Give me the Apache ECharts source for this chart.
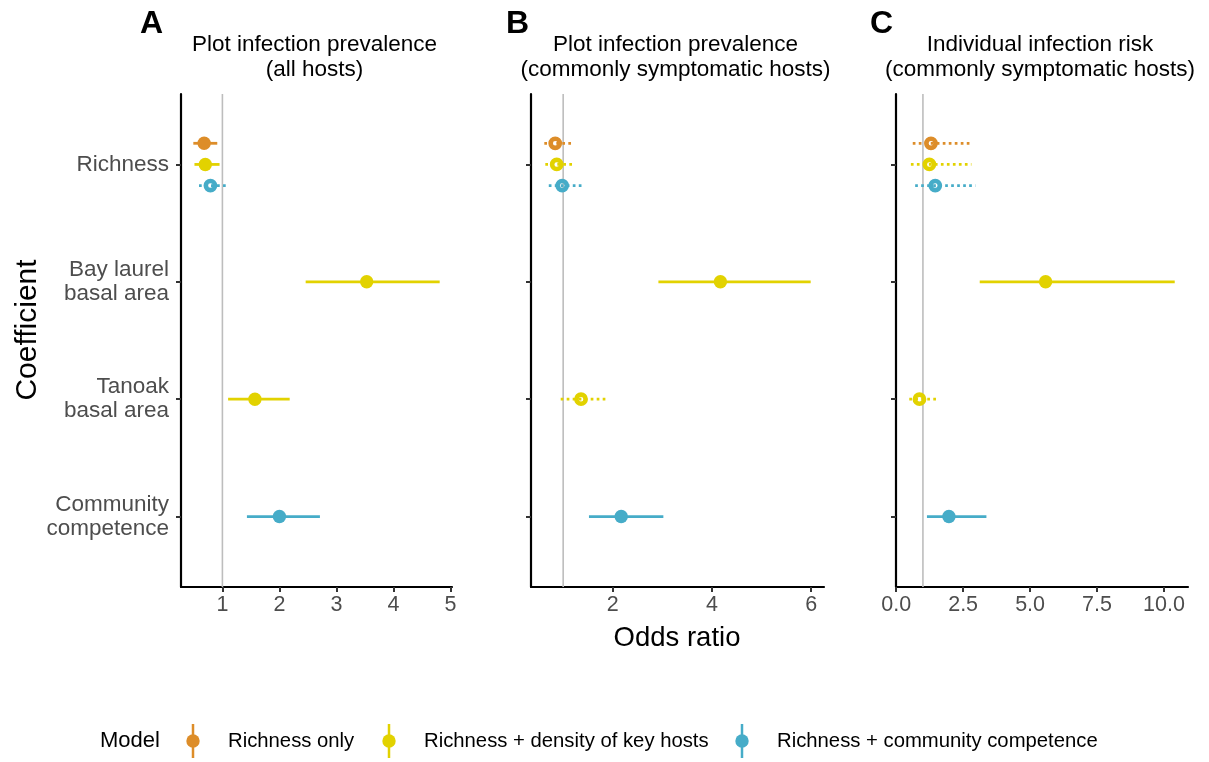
<!DOCTYPE html>
<html>
<head>
<meta charset="utf-8">
<title>Odds ratios by model</title>
<script src="https://cdn.jsdelivr.net/npm/echarts@6/dist/echarts.min.js"></script>
<style>
  html, body { margin: 0; padding: 0; background: #ffffff; }
  #chart { width: 1209px; height: 762px; }
</style>
</head>
<body>
<div id="chart"></div>
<script>
// Coefficients (top to bottom) and models
const coefficients = ['Richness', 'Bay laurel\nbasal area', 'Tanoak\nbasal area', 'Community\ncompetence'];
const models = ['Richness only', 'Richness + density of key hosts', 'Richness + community competence'];
const modelColors = ['#DD8D29', '#E2D200', '#46ACC8'];

// Panel headings
const panelLetters = ['A', 'B', 'C'];
const panelTitles = [
  'Plot infection prevalence\n(all hosts)',
  'Plot infection prevalence\n(commonly symptomatic hosts)',
  'Individual infection risk\n(commonly symptomatic hosts)'
];

// Rows: [coefficient index, model index, odds ratio, CI low, CI high, significant (1/0)]
const plotPrevalenceAll = [
  [0, 0, 0.68, 0.49, 0.91, 1],
  [0, 1, 0.70, 0.51, 0.95, 1],
  [0, 2, 0.79, 0.59, 1.08, 0],
  [1, 1, 3.53, 2.46, 4.81, 1],
  [2, 1, 1.57, 1.10, 2.18, 1],
  [3, 2, 2.00, 1.43, 2.71, 1]
];
const plotPrevalenceSymptomatic = [
  [0, 0, 0.84, 0.62, 1.18, 0],
  [0, 1, 0.87, 0.64, 1.21, 0],
  [0, 2, 0.98, 0.71, 1.40, 0],
  [1, 1, 4.17, 2.92, 5.99, 1],
  [2, 1, 1.36, 0.95, 1.88, 0],
  [3, 2, 2.17, 1.52, 3.02, 1]
];
const individualRiskSymptomatic = [
  [0, 0, 1.30, 0.62, 2.75, 0],
  [0, 1, 1.24, 0.55, 2.81, 0],
  [0, 2, 1.46, 0.71, 2.96, 0],
  [1, 1, 5.58, 3.12, 10.40, 1],
  [2, 1, 0.87, 0.49, 1.60, 0],
  [3, 2, 1.97, 1.15, 3.37, 1]
];

// X-axis tick values per panel
const ticksA = [1, 2, 3, 4, 5];
const ticksB = [2, 4, 6];
const ticksC = [0, 2.5, 5, 7.5, 10];

const panels = [plotPrevalenceAll, plotPrevalenceSymptomatic, individualRiskSymptomatic];
const panelTicks = [ticksA, ticksB, ticksC];
const tickDigits = [0, 0, 1];

const FONT = '"Liberation Sans", Arial, Helvetica, sans-serif';
const gridBoxes = [
  { left: 181, width: 271 },
  { left: 531, width: 293 },
  { left: 896, width: 292 }
];
const GRID_TOP = 94, GRID_H = 493;
const DODGE = 0.18;

// Position each estimate on the coefficient axis, dodging when several models share it
function toSeriesData(rows) {
  return rows.map(r => {
    const n = rows.filter(o => o[0] === r[0]).length;
    const y = (r[0] + 1) + (n > 1 ? (r[1] - 1) * DODGE : 0);
    return [r[2], r[3], r[4], y, r[1], r[5]];
  });
}

// 5% expansion of the data range on both sides
function xRange(rows) {
  const lo = Math.min(...rows.map(r => r[3]));
  const hi = Math.max(...rows.map(r => r[4]));
  const pad = (hi - lo) * 0.05;
  return [lo - pad, hi + pad];
}

// Point estimate with its confidence interval: solid + filled when significant, dotted + open otherwise
function renderPointRange(params, api) {
  const est = api.value(0), lo = api.value(1), hi = api.value(2), y = api.value(3);
  const color = modelColors[api.value(4)];
  const sig = api.value(5) === 1;
  const p = api.coord([est, y]);
  const a = api.coord([lo, y]);
  const b = api.coord([hi, y]);
  const line = {
    type: 'line',
    shape: { x1: a[0], y1: a[1], x2: b[0], y2: b[1] },
    style: sig
      ? { stroke: color, lineWidth: 2.8 }
      : { stroke: color, lineWidth: 2.7, lineDash: [2.7, 3.3] }
  };
  const dot = sig
    ? { type: 'circle', shape: { cx: p[0], cy: p[1], r: 6.7 }, style: { fill: color } }
    : { type: 'circle', shape: { cx: p[0], cy: p[1], r: 4.6 }, style: { fill: 'rgba(0,0,0,0)', stroke: color, lineWidth: 4.6 } };
  return { type: 'group', children: [line, dot] };
}

const grids = [], xAxes = [], yAxes = [], series = [];
panels.forEach((rows, i) => {
  const [xmin, xmax] = xRange(rows);
  grids.push({ left: gridBoxes[i].left, width: gridBoxes[i].width, top: GRID_TOP, height: GRID_H, containLabel: false });
  xAxes.push({
    type: 'value', gridIndex: i, min: xmin, max: xmax,
    axisLine: { show: true, lineStyle: { color: '#000', width: 2.2 } },
    axisTick: { show: true, customValues: panelTicks[i], length: 5, lineStyle: { color: '#333', width: 2 } },
    axisLabel: {
      show: true, customValues: panelTicks[i], margin: 7,
      color: '#4D4D4D', fontSize: 21.5, fontFamily: FONT,
      formatter: v => Number(v).toFixed(tickDigits[i])
    },
    splitLine: { show: false }
  });
  yAxes.push({
    type: 'value', gridIndex: i, min: 0.4, max: 4.6, inverse: true,
    axisLine: { show: true, onZero: false, lineStyle: { color: '#000', width: 2.2 } },
    axisTick: { show: true, customValues: [1, 2, 3, 4], length: 5, lineStyle: { color: '#333', width: 2 } },
    axisLabel: {
      show: i === 0, customValues: [1, 2, 3, 4], margin: 12,
      color: '#4D4D4D', fontSize: 22.5, lineHeight: 24, fontFamily: FONT, align: 'right',
      padding: [3, 0, 0, 0],
      formatter: v => coefficients[Math.round(v) - 1]
    },
    splitLine: { show: false }
  });
  // Reference line at an odds ratio of 1
  series.push({
    type: 'line', xAxisIndex: i, yAxisIndex: i, z: 1,
    data: [[1, 0.4], [1, 4.6]], symbol: 'none', silent: true,
    lineStyle: { color: '#BDBDBD', width: 1.6 }
  });
  series.push({
    type: 'custom', xAxisIndex: i, yAxisIndex: i, z: 5, clip: false,
    renderItem: renderPointRange,
    data: toSeriesData(rows)
  });
});

// Panel letters, titles, axis names and the model legend
const graphics = [];
const letterX = [140, 506, 870];
panels.forEach((_, i) => {
  const cx = gridBoxes[i].left + gridBoxes[i].width / 2;
  graphics.push({
    type: 'text', left: letterX[i], top: 8,
    style: { text: panelLetters[i], fontSize: 32, fontWeight: 'bold', fontFamily: FONT, fill: '#000' }
  });
  graphics.push({
    type: 'text', x: cx - 2, y: 57.5,
    style: { text: panelTitles[i], fontSize: 22.5, lineHeight: 24.5, fontFamily: FONT, fill: '#000', align: 'center', verticalAlign: 'middle' }
  });
});
graphics.push({
  type: 'text', x: 677, y: 638,
  style: { text: 'Odds ratio', fontSize: 27.5, fontFamily: FONT, fill: '#000', align: 'center', verticalAlign: 'middle' }
});
graphics.push({
  type: 'text', x: 28, y: 330, rotation: Math.PI / 2,
  style: { text: 'Coefficient', fontSize: 30, fontFamily: FONT, fill: '#000', align: 'center', verticalAlign: 'middle' }
});
graphics.push({
  type: 'text', x: 100, y: 741,
  style: { text: 'Model', fontSize: 22, fontFamily: FONT, fill: '#000', align: 'left', verticalAlign: 'middle' }
});
const legendKeyX = [193, 389, 742];
models.forEach((name, i) => {
  const kx = legendKeyX[i];
  graphics.push({ type: 'line', shape: { x1: kx, y1: 724, x2: kx, y2: 758 }, style: { stroke: modelColors[i], lineWidth: 2.5 } });
  graphics.push({ type: 'circle', shape: { cx: kx, cy: 741, r: 6.7 }, style: { fill: modelColors[i] } });
  graphics.push({
    type: 'text', x: kx + 35, y: 741,
    style: { text: name, fontSize: 20.3, fontFamily: FONT, fill: '#000', align: 'left', verticalAlign: 'middle' }
  });
});

const chart = echarts.init(document.getElementById('chart'), null, { renderer: 'canvas' });
chart.setOption({
  backgroundColor: '#ffffff',
  animation: false,
  grid: grids,
  xAxis: xAxes,
  yAxis: yAxes,
  series: series,
  graphic: graphics
});
</script>
</body>
</html>
